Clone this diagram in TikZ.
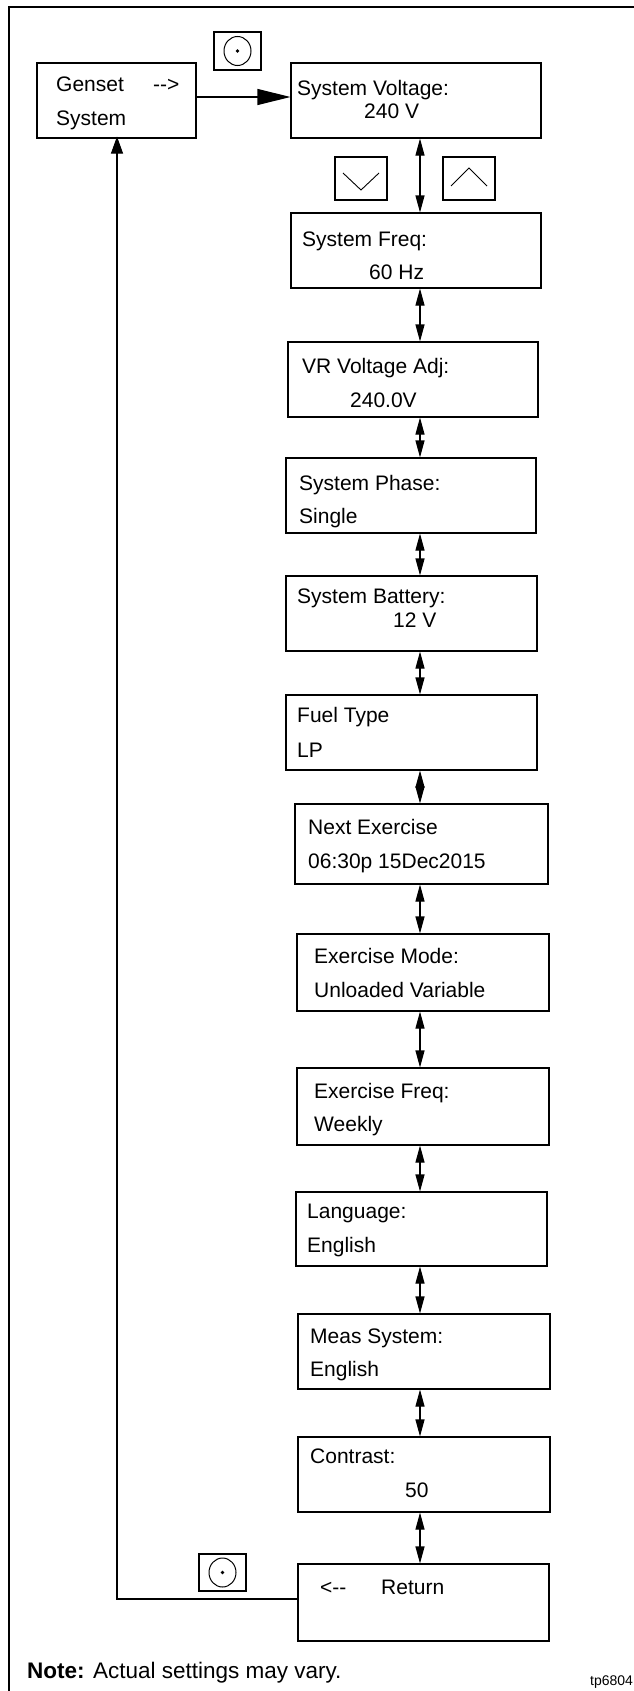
\documentclass[tikz,border=0pt]{standalone}
\usepackage{fontspec}
\setmainfont{Liberation Sans}
\usetikzlibrary{fit,arrows.meta}
\tikzset{
  box/.style={draw, line width=1.1pt, inner sep=0pt, fit={#1}},
  btn/.style={draw, line width=1.1pt, inner sep=0pt, fit={#1}},
  lbl/.style={anchor=base west, inner sep=0pt, font=\fontsize{21}{25}\selectfont},
  conn/.style={line width=1.1pt, {Triangle[length=17pt,width=9pt]}-{Triangle[length=17pt,width=9pt]}},
  frame/.style={line width=2.6pt},
}
\begin{document}
\begin{tikzpicture}[x=1pt,y=-1pt]
\useasboundingbox (0,0) rectangle (634,1691);
\clip (0,0) rectangle (634,1691);
% frame
\draw[frame] (9,1691) -- (9,7) -- (634,7);
% boxes
\node[box={(37,63) (196,138)}] (gs) {};
\node[box={(291,63) (541,138)}] (sv) {};
\node[box={(291,213) (541,288)}] (sf) {};
\node[box={(288,342) (538,417)}] (vr) {};
\node[box={(286,458) (536,533)}] (ph) {};
\node[box={(286,576) (537,651)}] (bt) {};
\node[box={(286,695) (537,770)}] (ft) {};
\node[box={(295,804) (548,884)}] (nx) {};
\node[box={(297,934) (549,1011)}] (em) {};
\node[box={(297,1068) (549,1145)}] (ef) {};
\node[box={(296,1192) (547,1266)}] (lg) {};
\node[box={(298,1314) (550,1389)}] (ms) {};
\node[box={(298,1437) (550,1512)}] (ct) {};
\node[box={(298,1564) (549,1641)}] (rt) {};
% buttons
\node[btn={(214,32) (261,70)}] (sel1) {};
\draw[line width=1pt] (sel1.center) circle[x radius=13.5, y radius=14.5];
\fill (sel1.center) circle[radius=1.8];
\node[btn={(335,157) (387,200)}] (dn) {};
\draw[line width=0.9pt] (343,173) -- (361,190) -- (379,173);
\node[btn={(443,157) (495,200)}] (up) {};
\draw[line width=0.9pt] (451,186) -- (469,168) -- (487,186);
\node[btn={(199,1554) (246,1591)}] (sel2) {};
\draw[line width=1pt] (sel2.center) circle[x radius=13.5, y radius=14.5];
\fill (sel2.center) circle[radius=1.8];
% labels
\node[lbl] (t1) at (56,92) {Genset};
\node[lbl] (t2) at (153,92) {-{}->};
\node[lbl] (t3) at (56,126) {System};
\node[lbl] (t4) at (297,96) {System Voltage:};
\node[lbl] (t5) at (364,119) {240 V};
\node[lbl] (t6) at (302,246) {System Freq:};
\node[lbl] (t7) at (369,279) {60 Hz};
\node[lbl] (t8) at (302,373) {VR Voltage Adj:};
\node[lbl] (t9) at (350,407) {240.0V};
\node[lbl] (t10) at (299,490) {System Phase:};
\node[lbl] (t11) at (299,523) {Single};
\node[lbl] (t12) at (297,603) {System Battery:};
\node[lbl] (t13) at (393,627) {12 V};
\node[lbl] (t14) at (297,722) {Fuel Type};
\node[lbl] (t15) at (297,757) {LP};
\node[lbl] (t16) at (308,834) {Next Exercise};
\node[lbl] (t17) at (308,868) {06:30p 15Dec2015};
\node[lbl] (t18) at (314,963) {Exercise Mode:};
\node[lbl] (t19) at (314,997) {Unloaded Variable};
\node[lbl] (t20) at (314,1098) {Exercise Freq:};
\node[lbl] (t21) at (314,1131) {Weekly};
\node[lbl] (t22) at (307,1218) {Language:};
\node[lbl] (t23) at (307,1252) {English};
\node[lbl] (t24) at (310,1343) {Meas System:};
\node[lbl] (t25) at (310,1376) {English};
\node[lbl] (t26) at (310,1463) {Contrast:};
\node[lbl] (t27) at (405,1497) {50};
\node[lbl] (t28) at (320,1594) {<-{}-};
\node[lbl] (t29) at (381,1594) {Return};
\node[anchor=base west, inner sep=0pt, font=\fontsize{22.5}{27}\selectfont] (note) at (27,1678) {\textbf{Note:} Actual settings may vary.};
\node[anchor=base west, inner sep=0pt, font=\fontsize{14}{16}\selectfont] (tp) at (590,1685) {tp6804};
% connectors
\coordinate (ax) at (420,0);
\coordinate (ay) at (0,97);
\coordinate (rc) at (117,1599);
\draw[line width=1.1pt, -{Triangle[length=33pt,width=16pt]}] (gs.east |- ay) -- (sv.west |- ay);
\draw[line width=1.1pt, -{Triangle[length=17pt,width=12pt]}] (rt.west |- rc) -- (rc) -- ([yshift=2pt]gs.south -| rc);
\draw[conn] (sv.south -| ax) -- (sf.north -| ax);
\draw[conn] (sf.south -| ax) -- (vr.north -| ax);
\draw[conn] (vr.south -| ax) -- (ph.north -| ax);
\draw[conn] (ph.south -| ax) -- (bt.north -| ax);
\draw[conn] (bt.south -| ax) -- (ft.north -| ax);
\draw[conn] (ft.south -| ax) -- (nx.north -| ax);
\draw[conn] (nx.south -| ax) -- (em.north -| ax);
\draw[conn] (em.south -| ax) -- (ef.north -| ax);
\draw[conn] (ef.south -| ax) -- (lg.north -| ax);
\draw[conn] (lg.south -| ax) -- (ms.north -| ax);
\draw[conn] (ms.south -| ax) -- (ct.north -| ax);
\draw[conn] (ct.south -| ax) -- (rt.north -| ax);
\end{tikzpicture}
\end{document}
